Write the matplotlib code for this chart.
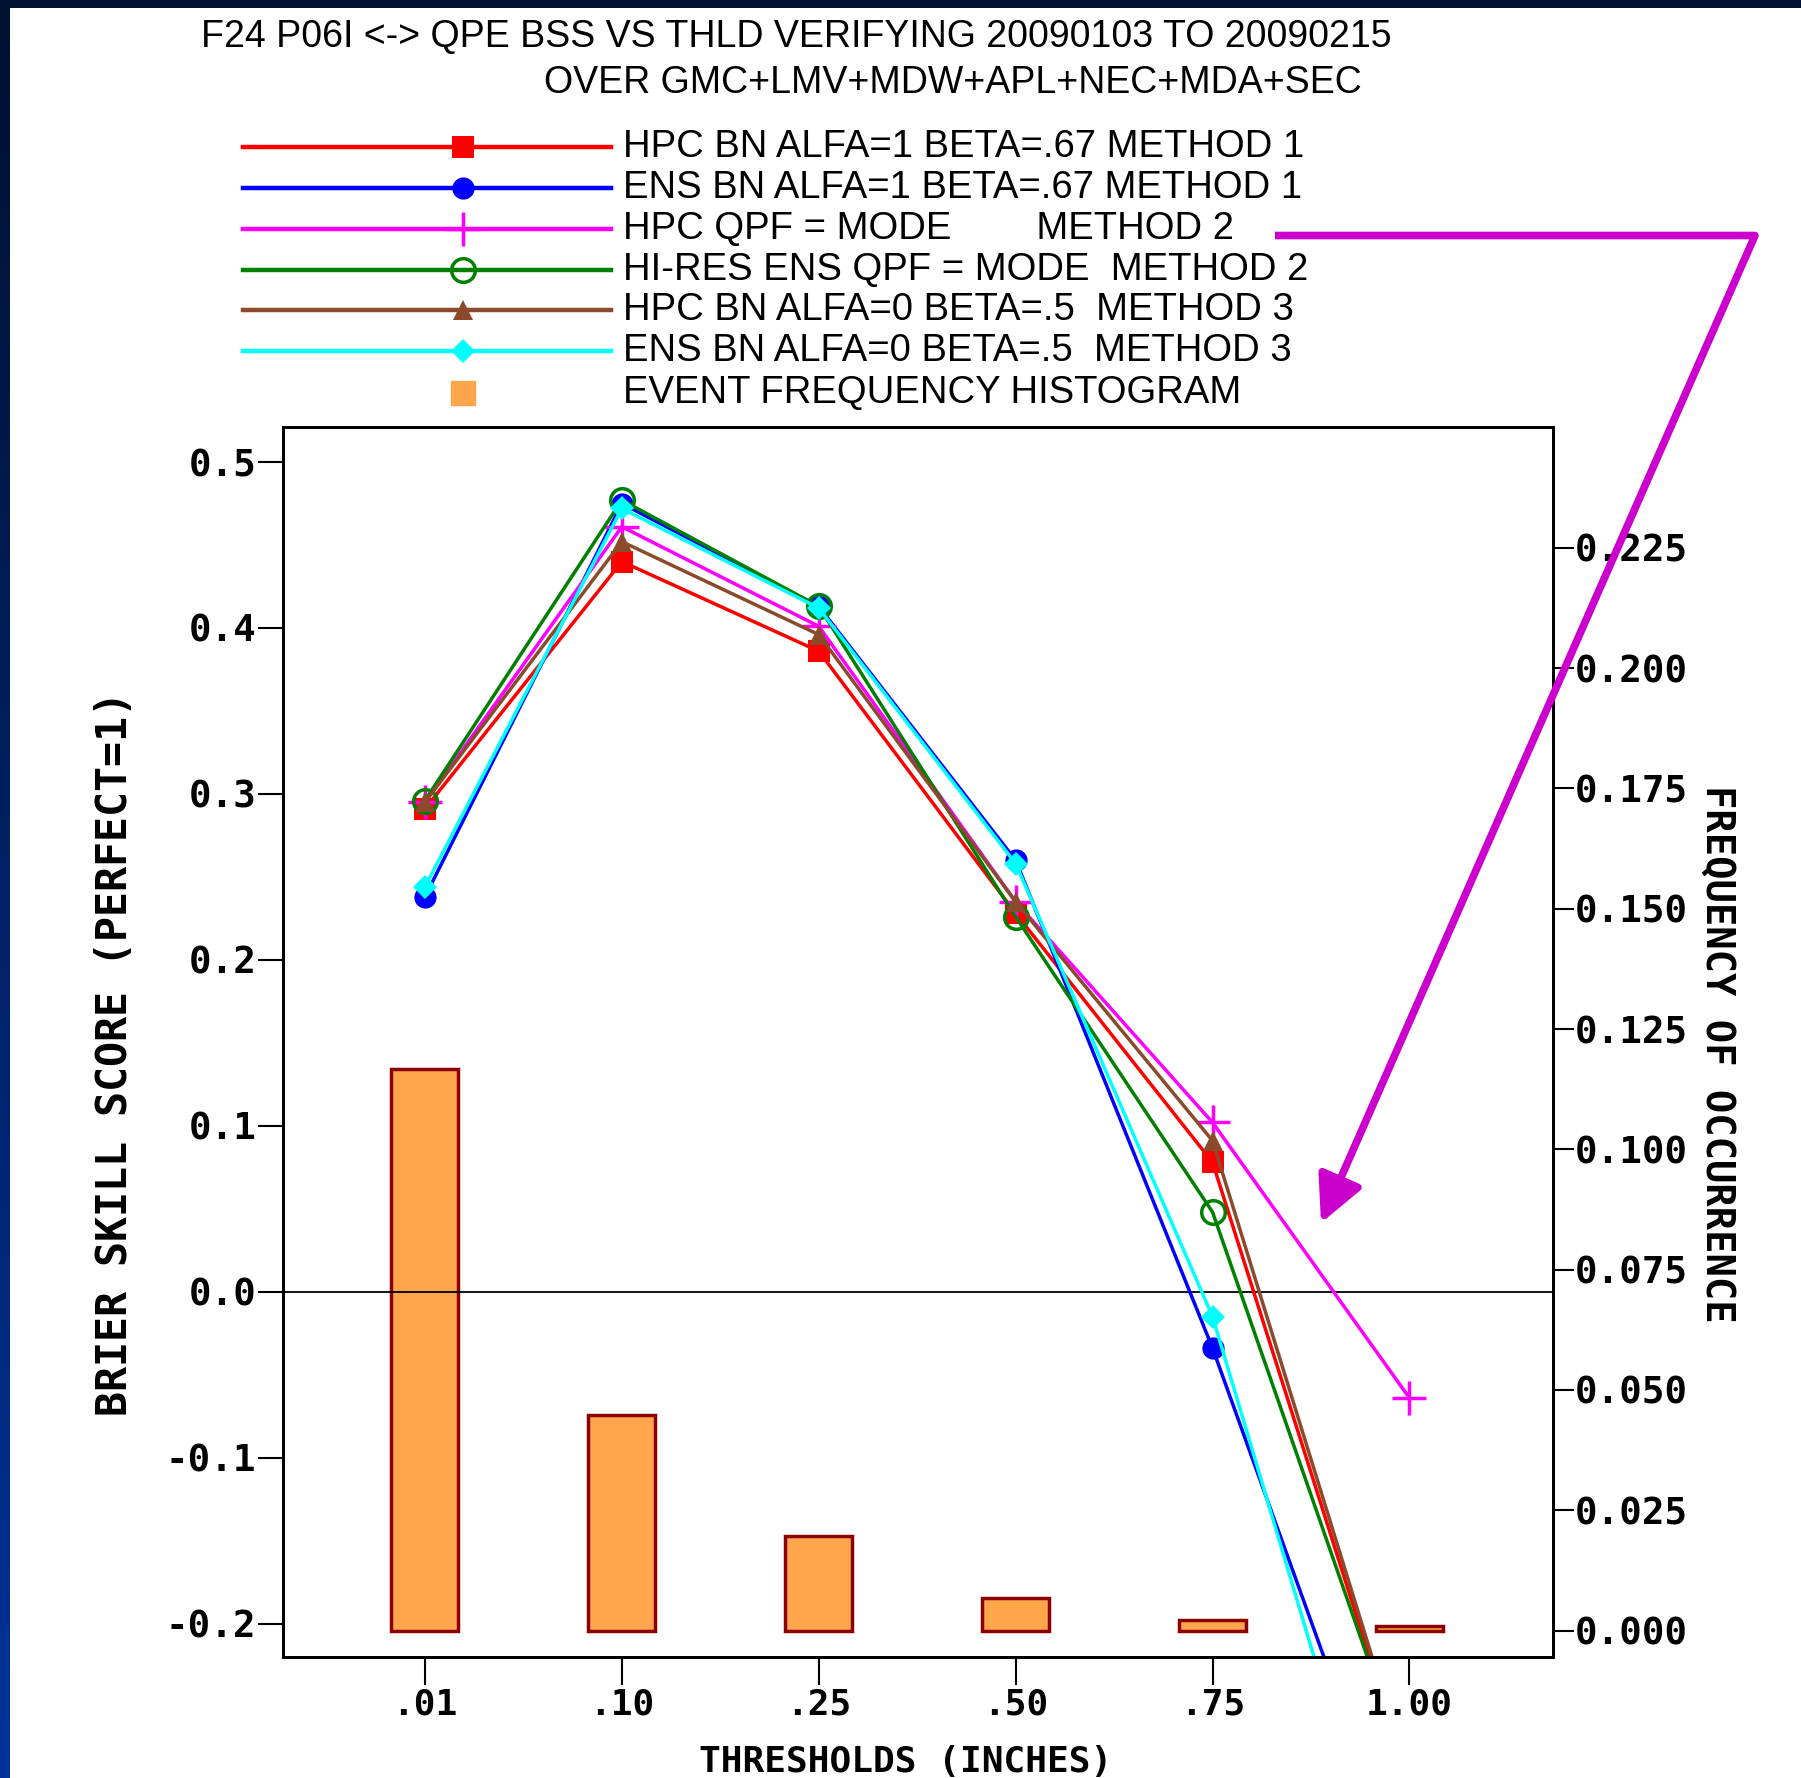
import numpy as np
import matplotlib
matplotlib.use("Agg")
import matplotlib.pyplot as plt

# thresholds and scores
thresholds = [".01", ".10", ".25", ".50", ".75", "1.00"]
hpc_bn_m1 = [0.291, 0.440, 0.386, 0.228, 0.078, -0.296]
ens_bn_m1 = [0.238, 0.475, 0.413, 0.260, -0.034, -0.363]
hpc_mode_m2 = [0.295, 0.461, 0.401, 0.235, 0.102, -0.064]
hires_mode_m2 = [0.296, 0.477, 0.413, 0.226, 0.048, -0.293]
hpc_bn_m3 = [0.295, 0.452, 0.396, 0.235, 0.091, -0.293]
ens_bn_m3 = [0.244, 0.472, 0.412, 0.258, -0.015, -0.413]
event_freq = [0.1167, 0.0448, 0.0196, 0.0067, 0.0021, 0.0010]

series_labels = ["HPC BN ALFA=1 BETA=.67 METHOD 1",
                 "ENS BN ALFA=1 BETA=.67 METHOD 1",
                 "HPC QPF = MODE        METHOD 2",
                 "HI-RES ENS QPF = MODE  METHOD 2",
                 "HPC BN ALFA=0 BETA=.5  METHOD 3",
                 "ENS BN ALFA=0 BETA=.5  METHOD 3"]
hist_label = "EVENT FREQUENCY HISTOGRAM"

left_ticks = [-0.2, -0.1, 0.0, 0.1, 0.2, 0.3, 0.4, 0.5]
right_ticks = [0.0, 0.025, 0.05, 0.075, 0.1, 0.125, 0.15, 0.175, 0.2, 0.225]

series = [hpc_bn_m1, ens_bn_m1, hpc_mode_m2, hires_mode_m2, hpc_bn_m3, ens_bn_m3]
styles = [
    dict(color="#ff0000", marker="s", ms=16, mfc="#ff0000", mew=0),
    dict(color="#0000ff", marker="o", ms=16, mfc="#0000ff", mew=0),
    dict(color="#ff00ff", marker="+", ms=24, mew=2.5),
    dict(color="#008000", marker="o", ms=17, mfc="none", mew=2.5),
    dict(color="#8b4a2b", marker="^", ms=14, mfc="#8b4a2b", mew=0),
    dict(color="#00ffff", marker="D", ms=12, mfc="#00ffff", mew=0),
]

mono = "DejaVu Sans Mono"
W, H = 1801, 1778
fig = plt.figure(figsize=(W / 100, H / 100), dpi=100)
fig.patch.set_facecolor("white")

# main axes (pixel box 282..1553 x 427..1657)
ax = fig.add_axes([282.6 / W, 1 - 1657 / H, (1553 - 282.6) / W, (1657 - 427) / H])
ax2 = ax.twinx()
ax.set_zorder(ax2.get_zorder() + 1)
ax.patch.set_visible(False)

x = np.arange(len(thresholds))

ax2.bar(x, event_freq, width=0.34, color="#ffa64d", edgecolor="#8b0000", linewidth=2.5)
ax2.set_ylim(-0.00549, 0.2501)
ax2.set_yticks(right_ticks)
ax2.set_yticklabels(["%.3f" % v for v in right_ticks], family=mono, fontweight="bold", fontsize=27)
ax2.tick_params(axis="y", direction="out", length=15, width=1.5, pad=1)

for vals, st in zip(series, styles):
    ax.plot(x, vals, lw=2.5, **st)

ax.axhline(0, color="black", lw=1.3, zorder=1)
ax.set_xlim(-0.723, 5.729)
ax.set_ylim(-0.2201, 0.5211)
ax.set_xticks(x)
ax.set_xticklabels(thresholds, family=mono, fontweight="bold", fontsize=26)
ax.set_yticks(left_ticks)
ax.set_yticklabels(["%.1f" % v for v in left_ticks], family=mono, fontweight="bold", fontsize=27)
ax.tick_params(axis="x", direction="out", length=20, width=1.5, pad=2)
ax.tick_params(axis="y", direction="out", length=18, width=1.5, pad=1)
for a in (ax, ax2):
    for sp in a.spines.values():
        sp.set_linewidth(2)

# axis labels
fig.text(906 / W, 1 - 1762 / H, "THRESHOLDS (INCHES)", family=mono, fontweight="bold",
         fontsize=26, ha="center", va="center")
fig.text(115 / W, 1 - 1054 / H, "BRIER SKILL SCORE (PERFECT=1)", family=mono, fontweight="bold",
         fontsize=30, ha="center", va="center", rotation=90)
fig.text(1717 / W, 1 - 1054 / H, "FREQUENCY OF OCCURRENCE", family=mono, fontweight="bold",
         fontsize=28, ha="center", va="center", rotation=-90)

# titles
fig.text(796 / W, 1 - 37 / H, "F24 P06I <-> QPE BSS VS THLD VERIFYING 20090103 TO 20090215",
         family="Liberation Sans", fontsize=27, ha="center", va="center")
fig.text(953 / W, 1 - 83 / H, "OVER GMC+LMV+MDW+APL+NEC+MDA+SEC",
         family="Liberation Sans", fontsize=27, ha="center", va="center")

# overlay in pixel coordinates: legend, arrow, frame
ov = fig.add_axes([0, 0, 1, 1], zorder=10)
ov.set_xlim(0, W)
ov.set_ylim(H, 0)
ov.axis("off")
ov.patch.set_visible(False)

row_y = [147, 188, 229, 270, 310, 351, 393]
for yy, st, lab in zip(row_y, styles, series_labels):
    ov.plot([243, 611], [yy, yy], color=st["color"], lw=3.2)
    ov.plot([463], [yy], ls="none", **st)
    ov.text(623, yy, lab, family="Liberation Sans", fontsize=27.5, va="center", ha="left")
ov.plot([463], [row_y[6]], marker="s", ms=17, color="#ffa64d", ls="none")
ov.text(623, row_y[6], hist_label, family="Liberation Sans", fontsize=27.5, va="center", ha="left")

arrow_col = "#cc00cc"
ov.plot([1275, 1755, 1742], [235.5, 235.5, 265], color=arrow_col, lw=5.5, solid_capstyle="butt")
ov.annotate("", xy=(1321, 1223), xytext=(1742, 265),
            arrowprops=dict(arrowstyle="-|>", color=arrow_col, lw=5.5,
                            mutation_scale=70, shrinkA=0, shrinkB=0))

# dark frame strips
ov.add_patch(plt.Rectangle((0, 0), W, 8, color="#001030", lw=0))
grad = np.linspace(0, 1, 256).reshape(-1, 1)
cmap = matplotlib.colors.LinearSegmentedColormap.from_list("edge", ["#001030", "#00339a"])
ov.imshow(grad, cmap=cmap, extent=[0, 9, H, 0], aspect="auto")
ov.set_xlim(0, W)
ov.set_ylim(H, 0)

fig.savefig("out.png", dpi=100)
